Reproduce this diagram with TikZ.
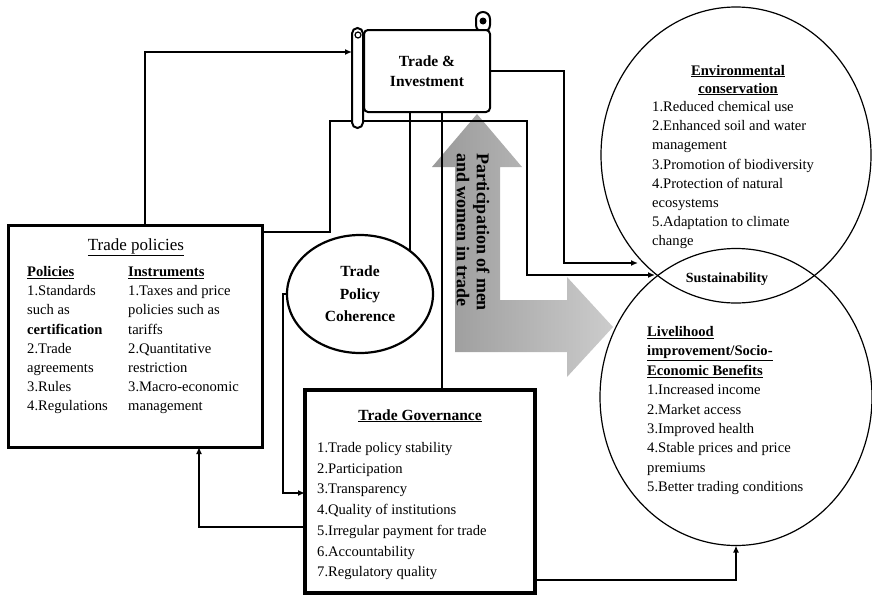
\documentclass[tikz,border=0pt]{standalone}
\usepackage{fontspec}
\setmainfont{Liberation Serif}
\usetikzlibrary{shapes.geometric,arrows.meta,backgrounds}
\begin{document}
\begin{tikzpicture}[x=1pt,y=-1pt,
  conn/.style={line width=1.8pt},
  arr/.style={conn,-{Latex[length=7pt,width=6pt]}},
  txt/.style={inner sep=0pt,anchor=base west,font=\fontsize{14.6}{19}\selectfont},
  ttl/.style={inner sep=0pt,anchor=base,font=\fontsize{14.6}{19}\selectfont\bfseries},
  frame/.style={draw,outer sep=0pt,inner sep=0pt},
  ring/.style={draw,ellipse,outer sep=0pt,inner sep=0pt,line width=1.2pt}]
\useasboundingbox (0,0) rectangle (872,597);

% ---- main boxes ----
\node[frame,line width=3pt,minimum width=254,minimum height=222] (tp) at (135,336) {};
\node[frame,line width=3.5pt,minimum width=230,minimum height=203] (tg) at (420,491.5) {};
\node[frame,ellipse,line width=2.2pt,minimum width=146,minimum height=118,align=center,
      font=\fontsize{15.5}{22.5}\selectfont\bfseries] (tpc) at (360,294)
  {Trade\\Policy\\Coherence};

% ---- outcome circles ----
\node[ring,minimum width=270,minimum height=296] (env) at (736,155) {};
\node[ring,minimum width=272,minimum height=297] (liv) at (736,397) {};
\node[inner sep=0pt,font=\fontsize{14}{16}\selectfont\bfseries] (sus) at (727,279) {Sustainability};

% ---- Trade & Investment scroll ----
\node[frame,line width=2pt,minimum width=14,minimum height=20,rounded corners=7pt,
      fill=white] (tab) at (483,22) {};
\node[frame,line width=2pt,minimum width=126,minimum height=82,rounded corners=4pt,
      fill=white,align=center,font=\fontsize{15.5}{20}\selectfont\bfseries] (ti) at (427,71)
  {Trade \&\\Investment};
\node[frame,line width=2pt,minimum width=11,minimum height=100,rounded corners=5.5pt,
      fill=white] (tiroll) at (357.5,78) {};
\fill (483,21) circle (3.5);
\draw[line width=1.2pt] (358,35) circle (3);

% ---- connector bends ----
\coordinate (a1) at (145,52);
\coordinate (b1) at (330,232);
\coordinate (b2) at (330,121);
\coordinate (b3) at (527,121);
\coordinate (b4) at (527,275);
\coordinate (sx) at (655,275);
\coordinate (c1) at (564,71);
\coordinate (c2) at (564,263);
\coordinate (envin) at (638,263);
\coordinate (d1) at (410,251);
\coordinate (e1) at (442,300);
\coordinate (f1) at (283,294);
\coordinate (f2) at (283,493);
\coordinate (g1) at (199,527);
\coordinate (h1) at (736,580);

\begin{scope}[on background layer]
% grey L-shaped arrow
\shade[left color=black!40,right color=black!20]
  (477,114) -- (522,167) -- (500,167) -- (500,300) -- (567,300) -- (567,277)
  -- (613,327) -- (567,377) -- (567,352) -- (455,352) -- (455,167) -- (432,167) -- cycle;
% connectors, passing beneath the scroll
\draw[arr] (a1 |- tp.north) -- (a1) -- (a1 -| tiroll.west);
\draw[arr] (b1 -| tp.east) -- (b1) -- (b2) -- (b3) -- (b4) -- (sx);
\draw[arr] (ti.east |- c1) -- (c1) -- (c2) -- (envin);
\draw[conn] (d1 |- ti.south) -- (d1);
\draw[conn] (e1 |- ti.south) -- (e1 |- tg.north);
\draw[arr] (tpc.west) -- (f1) -- (f2) -- (f2 -| tg.west);
\draw[arr] (g1 -| tg.west) -- (g1) -- (g1 |- tp.south);
\draw[arr] (h1 -| tg.east) -- (h1) -- (liv.south);
\end{scope}

\node[rotate=-90,align=left,inner sep=0pt,
      font=\fontsize{18}{20}\selectfont\bfseries] (part) at (473,232)
  {Participation of men\\and women in trade};

% ---- Trade policies text ----
\node[inner sep=0pt,anchor=base,font=\fontsize{17}{19}\selectfont] (tptitle) at (136,250)
  {\underline{Trade policies}};
\node[txt] (pol) at (27,276.5) {\bfseries\underline{Policies}};
\foreach \t [count=\i] in {1.Standards,such as,\textbf{certification},2.Trade,agreements,3.Rules,4.Regulations}
  \node[txt] (pol\i) at (27,{276.5+19.2*\i}) {\t};
\node[txt] (ins) at (128,276.5) {\bfseries\underline{Instruments}};
\foreach \t [count=\i] in {1.Taxes and price,policies such as,tariffs,2.Quantitative,restriction,3.Macro-economic,management}
  \node[txt] (ins\i) at (128,{276.5+19.2*\i}) {\t};

% ---- Trade Governance text ----
\node[inner sep=0pt,anchor=base,font=\fontsize{15.5}{19}\selectfont\bfseries] (tgtitle) at (420,420)
  {\underline{Trade Governance}};
\foreach \t [count=\i from 0] in {1.Trade policy stability,2.Participation,3.Transparency,4.Quality of institutions,5.Irregular payment for trade,6.Accountability,7.Regulatory quality}
  \node[txt] (gov\i) at (317,{452.5+20.7*\i}) {\t};

% ---- Environmental conservation text ----
\node[ttl] (envt1) at (738,75) {\underline{Environmental}};
\node[ttl] (envt2) at (738,93) {\underline{conservation}};
\foreach \t [count=\i from 0] in {1.Reduced chemical use,2.Enhanced soil and water,management,3.Promotion of biodiversity,4.Protection of natural,ecosystems,5.Adaptation to climate,change}
  \node[txt] (envl\i) at (652,{111.5+19.2*\i}) {\t};

% ---- Livelihood text ----
\foreach \t [count=\i from 0] in {Livelihood,improvement/Socio-,Economic Benefits}
  \node[txt,font=\fontsize{14.6}{19}\selectfont\bfseries] (livh\i) at (647,{336.5+19.4*\i}) {\underline{\t}};
\foreach \t [count=\i from 3] in {1.Increased income,2.Market access,3.Improved health,4.Stable prices and price,premiums,5.Better trading conditions}
  \node[txt] (livl\i) at (647,{336.5+19.4*\i}) {\t};
\end{tikzpicture}
\end{document}
